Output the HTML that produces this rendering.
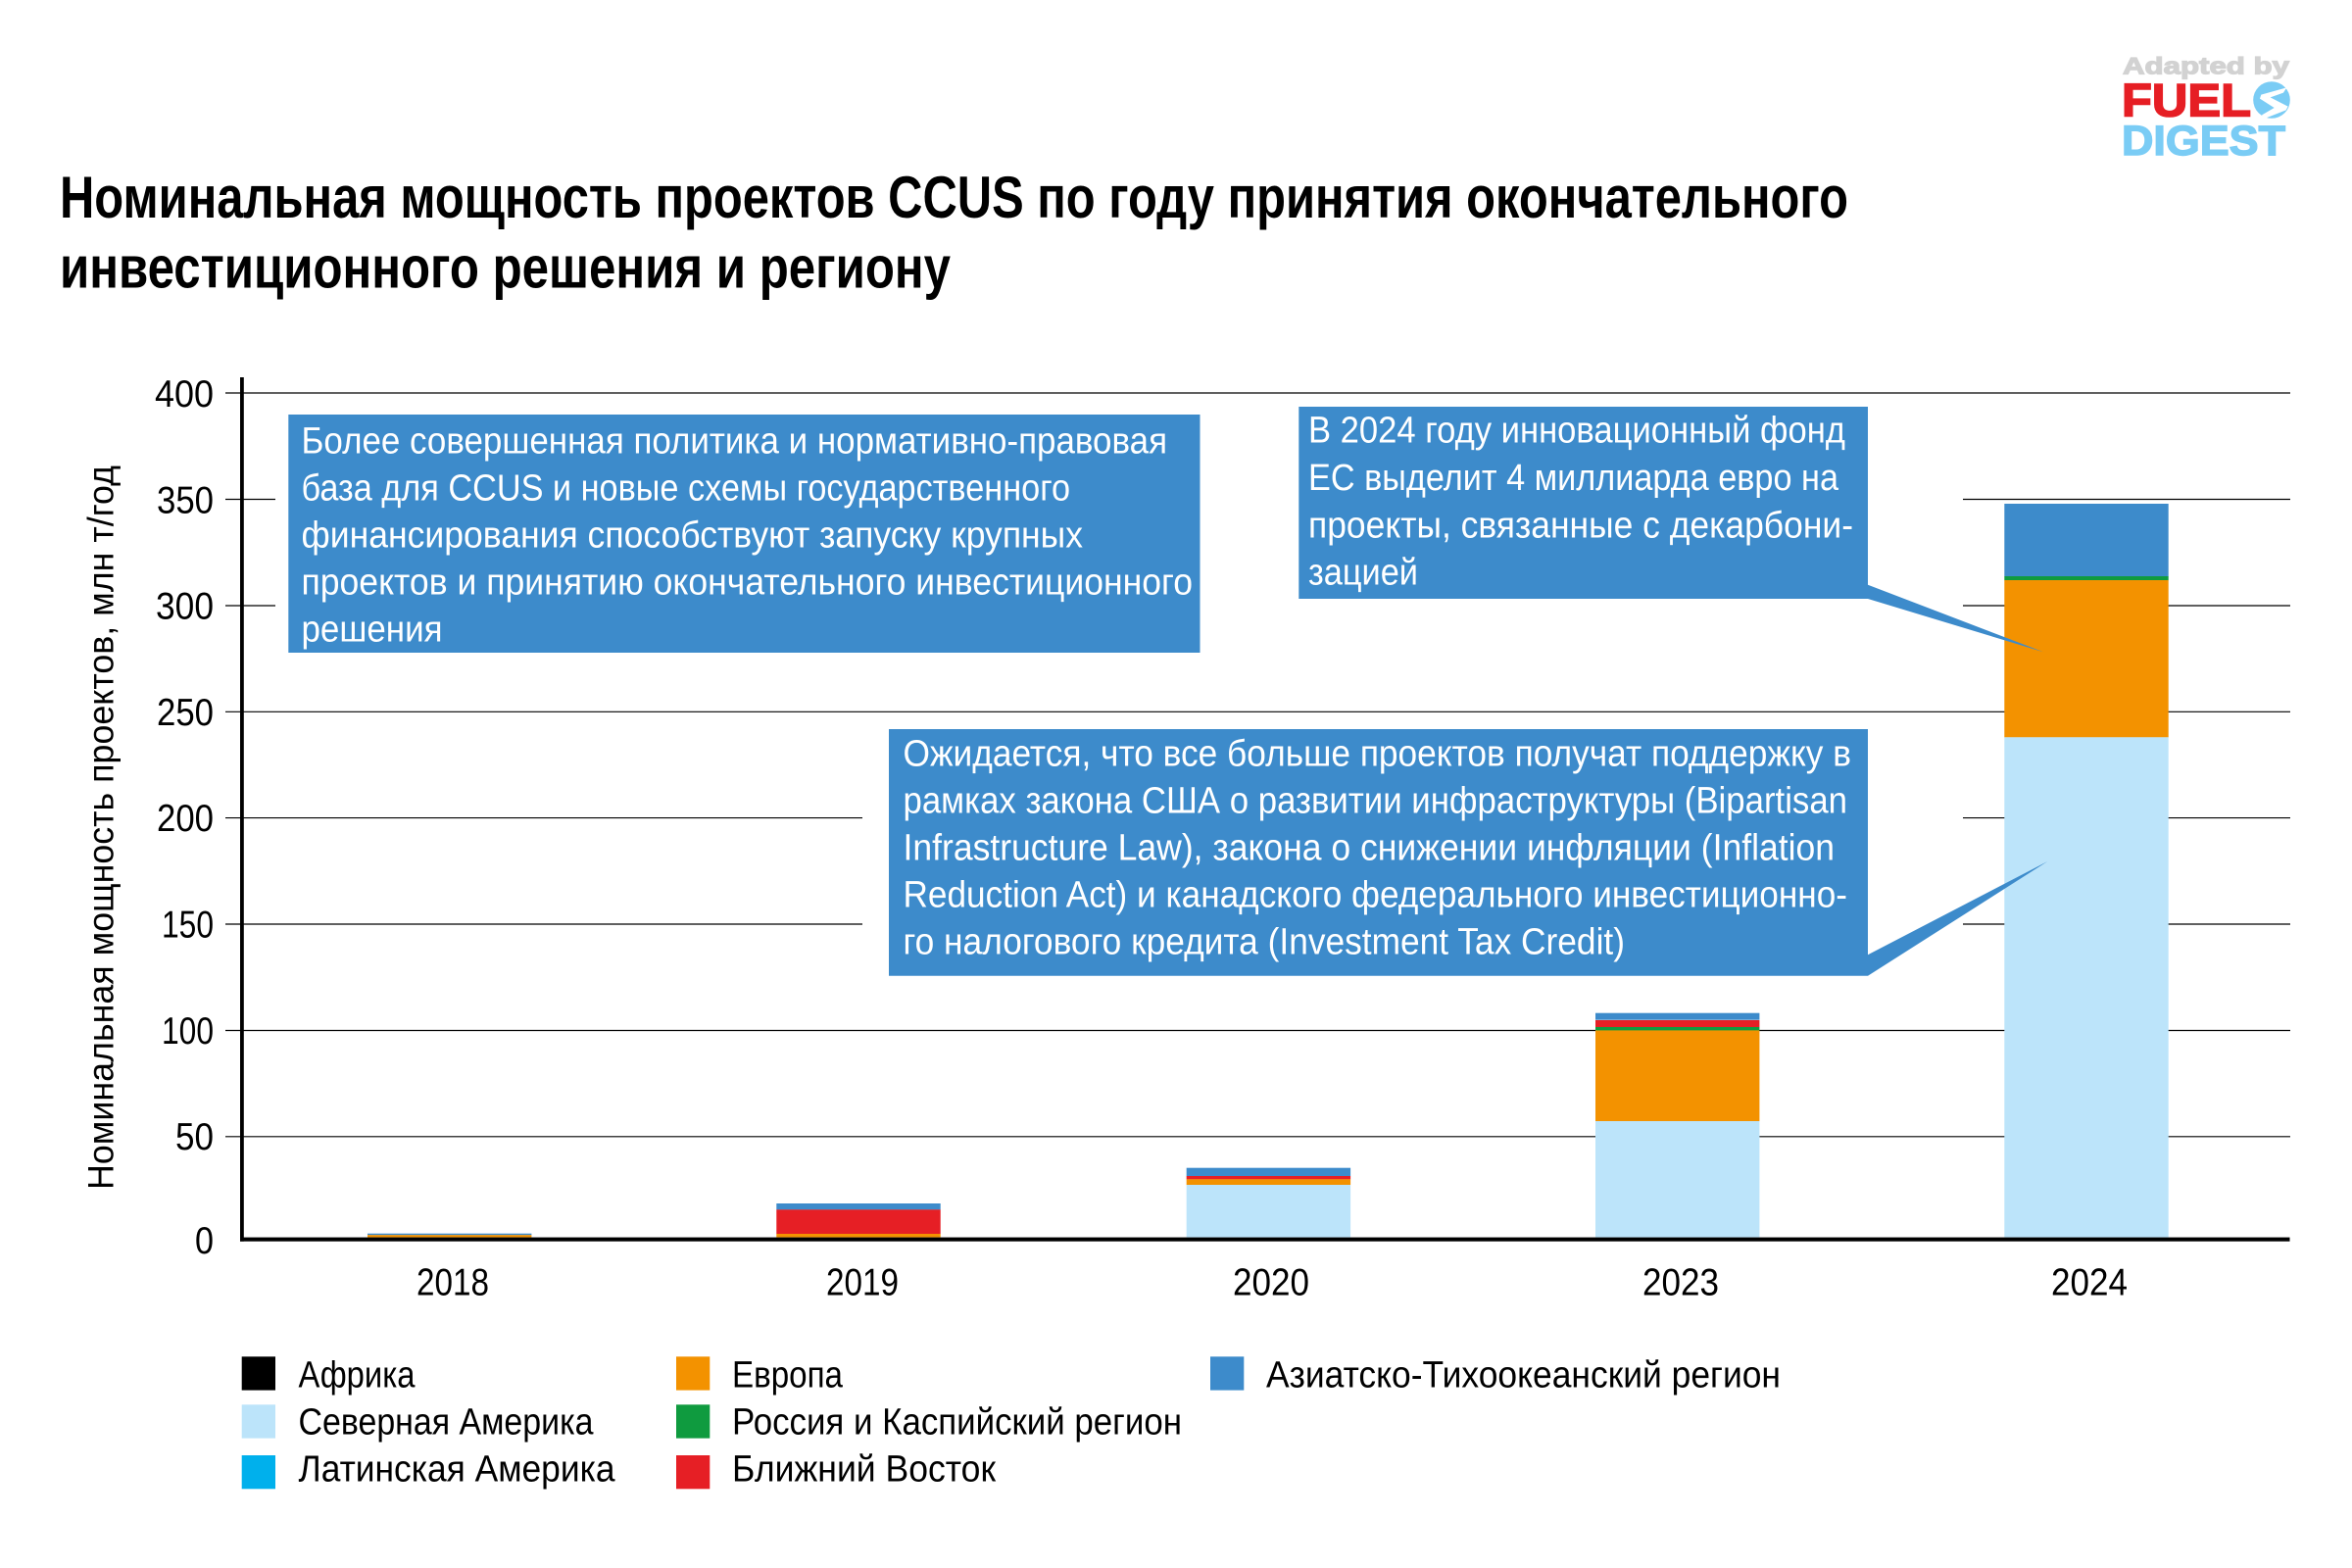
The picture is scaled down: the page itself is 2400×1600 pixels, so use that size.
<!DOCTYPE html>
<html lang="ru">
<head>
<meta charset="utf-8">
<title>Номинальная мощность проектов CCUS</title>
<style>
html,body{margin:0;padding:0;background:#fff;}
svg{display:block;}
text{font-family:"Liberation Sans Narrow","Liberation Sans","DejaVu Sans",sans-serif;}
.t{font-size:38px;fill:#000;}
.w{font-size:38px;fill:#fff;}
.h{font-size:60px;font-weight:700;fill:#000;}
.logo{font-family:"Liberation Sans",sans-serif;font-weight:700;}
</style>
</head>
<body>
<svg xmlns="http://www.w3.org/2000/svg" width="2400" height="1600" viewBox="0 0 2400 1600">
<rect width="2400" height="1600" fill="#fff"/>

<!-- logo -->
<text class="logo" x="2166" y="75.5" font-size="24" fill="#d2d2d2" stroke="#d2d2d2" stroke-width="1.2" textLength="170" lengthAdjust="spacingAndGlyphs">Adapted by</text>
<text class="logo" x="2165" y="118.3" font-size="47" fill="#e61e24" stroke="#e61e24" stroke-width="1.6" textLength="132" lengthAdjust="spacingAndGlyphs">FUEL</text>
<circle cx="2318" cy="102" r="18.8" fill="#7accf5"/>
<g transform="translate(2100,30) scale(0.3333)"><polygon points="700,178 622,200 618,212 662,240 624,262 632,273 698,247 704,236 650,208 690,194" fill="#fff"/></g>
<text class="logo" x="2165" y="158" font-size="43" fill="#7accf5" stroke="#7accf5" stroke-width="1.4" textLength="167" lengthAdjust="spacingAndGlyphs">DIGEST</text>

<!-- title -->
<text class="h" x="61" y="222" textLength="1825" lengthAdjust="spacingAndGlyphs">Номинальная мощность проектов CCUS по году принятия окончательного</text>
<text class="h" x="61" y="293.5" textLength="909" lengthAdjust="spacingAndGlyphs">инвестиционного решения и региону</text>

<!-- grid -->
<g stroke="#000" stroke-width="1.15" fill="none">
<path d="M230 401H2337"/>
<path d="M230 509.5H281M2003 509.5H2337"/>
<path d="M230 618H281M2003 618H2337"/>
<path d="M230 726.3H2337"/>
<path d="M230 834.6H880M2003 834.6H2337"/>
<path d="M230 943H880M2003 943H2337"/>
<path d="M230 1051.5H2337"/>
<path d="M230 1159.8H2337"/>
</g>

<!-- bars -->
<g>
<rect x="375" y="1258.7" width="167.4" height="1.6" fill="#3d8bcb"/>
<rect x="375" y="1260.2" width="167.4" height="2.4" fill="#f39200"/>

<rect x="792.3" y="1228" width="167.4" height="6.4" fill="#3d8bcb"/>
<rect x="792.3" y="1234.3" width="167.4" height="24.8" fill="#e61f25"/>
<rect x="792.3" y="1259" width="167.4" height="3.5" fill="#f39200"/>

<rect x="1210.7" y="1191.7" width="167.4" height="8.4" fill="#3d8bcb"/>
<rect x="1210.7" y="1200" width="167.4" height="3.4" fill="#e61f25"/>
<rect x="1210.7" y="1203.3" width="167.4" height="5.8" fill="#f39200"/>
<rect x="1210.7" y="1209" width="167.4" height="53.5" fill="#bce4fa"/>

<rect x="1628" y="1033.7" width="167.4" height="7" fill="#3d8bcb"/>
<rect x="1628" y="1041" width="167.4" height="7.2" fill="#e61f25"/>
<rect x="1628" y="1048" width="167.4" height="3.5" fill="#0f9b3f"/>
<rect x="1628" y="1051.4" width="167.4" height="92.8" fill="#f39200"/>
<rect x="1628" y="1144" width="167.4" height="118.5" fill="#bce4fa"/>

<rect x="2045.3" y="514" width="167.4" height="74.2" fill="#3d8bcb"/>
<rect x="2045.3" y="588" width="167.4" height="4.2" fill="#0f9b3f"/>
<rect x="2045.3" y="592" width="167.4" height="160.4" fill="#f39200"/>
<rect x="2045.3" y="752.3" width="167.4" height="510.2" fill="#bce4fa"/>
</g>

<!-- axes -->
<rect x="245" y="385" width="3.8" height="881.7" fill="#000"/>
<rect x="245" y="1262.6" width="2091.5" height="4.1" fill="#000"/>

<!-- y labels -->
<g class="t" text-anchor="end" style="font-size:39px">
<text x="218" y="415" textLength="60" lengthAdjust="spacingAndGlyphs">400</text>
<text x="218" y="523.5" textLength="58" lengthAdjust="spacingAndGlyphs">350</text>
<text x="218" y="631.5" textLength="59" lengthAdjust="spacingAndGlyphs">300</text>
<text x="218" y="740" textLength="58" lengthAdjust="spacingAndGlyphs">250</text>
<text x="218" y="848" textLength="58" lengthAdjust="spacingAndGlyphs">200</text>
<text x="218" y="956.5" textLength="53" lengthAdjust="spacingAndGlyphs">150</text>
<text x="218" y="1065" textLength="53" lengthAdjust="spacingAndGlyphs">100</text>
<text x="218" y="1173" textLength="39" lengthAdjust="spacingAndGlyphs">50</text>
<text x="218" y="1279" textLength="19" lengthAdjust="spacingAndGlyphs">0</text>
</g>

<!-- y title -->
<text class="t" style="font-size:37px" transform="translate(115.5,1214) rotate(-90)" textLength="739" lengthAdjust="spacingAndGlyphs">Номинальная мощность проектов, млн т/год</text>

<!-- x labels -->
<g class="t" text-anchor="middle" style="font-size:39px">
<text x="462" y="1321.7" textLength="74" lengthAdjust="spacingAndGlyphs">2018</text>
<text x="880" y="1321.7" textLength="74" lengthAdjust="spacingAndGlyphs">2019</text>
<text x="1297" y="1321.7" textLength="78" lengthAdjust="spacingAndGlyphs">2020</text>
<text x="1715" y="1321.7" textLength="78" lengthAdjust="spacingAndGlyphs">2023</text>
<text x="2132" y="1321.7" textLength="78" lengthAdjust="spacingAndGlyphs">2024</text>
</g>

<!-- callouts -->
<rect x="294.3" y="423" width="930.2" height="243" fill="#3d8bcb"/>
<polygon points="1325.3,415 1906,415 1906,596.7 2085,665.3 1906,611 1325.3,611" fill="#3d8bcb"/>
<polygon points="907,744 1906,744 1906,974.3 2089.3,879 1906,995.7 907,995.7" fill="#3d8bcb"/>

<text class="w" x="307.5" y="462.5" textLength="883.5" lengthAdjust="spacingAndGlyphs">Более совершенная политика и нормативно-правовая</text>
<text class="w" x="307.5" y="510.5" textLength="784.5" lengthAdjust="spacingAndGlyphs">база для CCUS и новые схемы государственного</text>
<text class="w" x="307.5" y="558.5" textLength="797.5" lengthAdjust="spacingAndGlyphs">финансирования способствуют запуску крупных</text>
<text class="w" x="307.5" y="606.5" textLength="909.5" lengthAdjust="spacingAndGlyphs">проектов и принятию окончательного инвестиционного</text>
<text class="w" x="307.5" y="654.5" textLength="144" lengthAdjust="spacingAndGlyphs">решения</text>

<text class="w" x="1335" y="451.7" textLength="548" lengthAdjust="spacingAndGlyphs">В 2024 году инновационный фонд</text>
<text class="w" x="1335" y="500" textLength="541" lengthAdjust="spacingAndGlyphs">ЕС выделит 4 миллиарда евро на</text>
<text class="w" x="1335" y="548.3" textLength="556" lengthAdjust="spacingAndGlyphs">проекты, связанные с декарбони-</text>
<text class="w" x="1335" y="596.7" textLength="112" lengthAdjust="spacingAndGlyphs">зацией</text>

<text class="w" x="921.5" y="781.7" textLength="967.5" lengthAdjust="spacingAndGlyphs">Ожидается, что все больше проектов получат поддержку в</text>
<text class="w" x="921.5" y="829.5" textLength="963.5" lengthAdjust="spacingAndGlyphs">рамках закона США о развитии инфраструктуры (Bipartisan</text>
<text class="w" x="921.5" y="877.7" textLength="950.5" lengthAdjust="spacingAndGlyphs">Infrastructure Law), закона о снижении инфляции (Inflation</text>
<text class="w" x="921.5" y="925.7" textLength="963.5" lengthAdjust="spacingAndGlyphs">Reduction Act) и канадского федерального инвестиционно-</text>
<text class="w" x="921.5" y="973.5" textLength="736.5" lengthAdjust="spacingAndGlyphs">го налогового кредита (Investment Tax Credit)</text>

<!-- legend -->
<rect x="246.7" y="1384.3" width="34.3" height="34.3" fill="#000"/>
<rect x="246.7" y="1433.3" width="34.3" height="34.3" fill="#bce4fa"/>
<rect x="246.7" y="1485" width="34.3" height="34.3" fill="#00b0ec"/>
<rect x="690" y="1384.3" width="34.3" height="34.3" fill="#f39200"/>
<rect x="690" y="1433.3" width="34.3" height="34.3" fill="#0f9b3f"/>
<rect x="690" y="1485" width="34.3" height="34.3" fill="#e61f25"/>
<rect x="1235" y="1384.3" width="34.3" height="34.3" fill="#3d8bcb"/>

<text class="t" x="304.5" y="1415.7" textLength="119" lengthAdjust="spacingAndGlyphs">Африка</text>
<text class="t" x="304.5" y="1463.7" textLength="301" lengthAdjust="spacingAndGlyphs">Северная Америка</text>
<text class="t" x="304.5" y="1511.7" textLength="323" lengthAdjust="spacingAndGlyphs">Латинская Америка</text>
<text class="t" x="747" y="1415.7" textLength="113" lengthAdjust="spacingAndGlyphs">Европа</text>
<text class="t" x="747" y="1463.7" textLength="459" lengthAdjust="spacingAndGlyphs">Россия и Каспийский регион</text>
<text class="t" x="747" y="1511.7" textLength="269" lengthAdjust="spacingAndGlyphs">Ближний Восток</text>
<text class="t" x="1292" y="1415.7" textLength="525" lengthAdjust="spacingAndGlyphs">Азиатско-Тихоокеанский регион</text>
</svg>
</body>
</html>
